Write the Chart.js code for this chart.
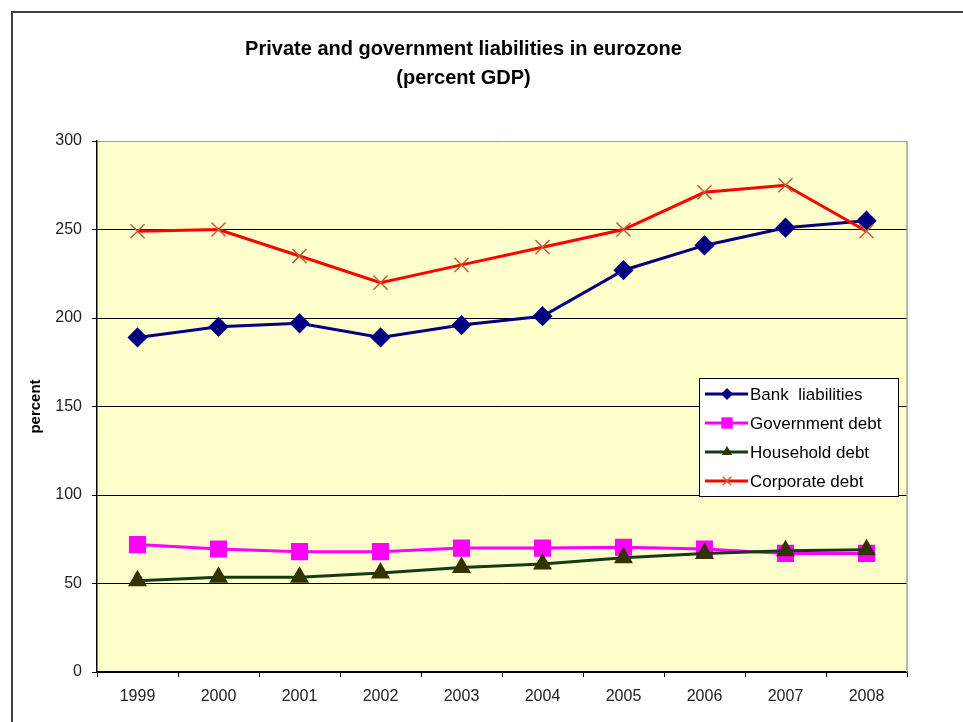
<!DOCTYPE html>
<html>
<head>
<meta charset="utf-8">
<title>Private and government liabilities in eurozone</title>
<script src="https://cdn.jsdelivr.net/npm/chart.js@4.4.1/dist/chart.umd.min.js"></script>
<style>
    html, body { margin: 0; padding: 0; background: #ffffff; }
    #wrap { width: 963px; height: 722px; }
</style>
</head>
<body>
<div id="wrap"><canvas id="liabChart" width="963" height="722"></canvas></div>
<script>
const years = ['1999', '2000', '2001', '2002', '2003', '2004', '2005', '2006', '2007', '2008'];

// percent of GDP
const bankLiabilities = [189, 195, 197, 189, 196, 201, 227, 241, 251, 255];
const governmentDebt = [72, 69.5, 68, 68, 70, 70, 70.5, 69.5, 67, 67];
const householdDebt = [51.5, 53.5, 53.5, 56, 59, 61, 64.5, 67, 68.5, 69];
const corporateDebt = [249, 250, 235, 220, 230, 240, 250, 271, 275, 249];

const yTicks = [0, 50, 100, 150, 200, 250, 300];

const FONT = "'Liberation Sans', Arial, sans-serif";

// small marker painter for the legend (same shapes as the chart points)
function drawMarker(ctx, style, x, y, r, fill, stroke, lw) {
    ctx.save();
    ctx.fillStyle = fill;
    ctx.strokeStyle = stroke;
    ctx.lineWidth = lw;
    ctx.beginPath();
    if (style === 'rectRot') {
        ctx.moveTo(x - r, y);
        ctx.lineTo(x, y - r);
        ctx.lineTo(x + r, y);
        ctx.lineTo(x, y + r);
        ctx.closePath();
        ctx.fill();
    } else if (style === 'rect') {
        const s = r * Math.SQRT1_2;
        ctx.rect(x - s, y - s, 2 * s, 2 * s);
        ctx.fill();
    } else if (style === 'triangle') {
        ctx.moveTo(x, y - r);
        ctx.lineTo(x + r * 0.866, y + r * 0.5);
        ctx.lineTo(x - r * 0.866, y + r * 0.5);
        ctx.closePath();
        ctx.fill();
    } else if (style === 'crossRot') {
        const s = r * Math.SQRT1_2;
        ctx.moveTo(x - s, y - s);
        ctx.lineTo(x + s, y + s);
        ctx.moveTo(x + s, y - s);
        ctx.lineTo(x - s, y + s);
        ctx.stroke();
    }
    ctx.restore();
}

const framePlugin = {
    id: 'frame',
    beforeDraw(chart) {
        const ctx = chart.ctx;
        const a = chart.chartArea;
        ctx.save();
        ctx.fillStyle = '#ffffff';
        ctx.fillRect(0, 0, chart.width, chart.height);
        // outer chart border, runs off the right and bottom edge
        ctx.strokeStyle = '#404040';
        ctx.lineWidth = 2;
        ctx.strokeRect(12, 12, chart.width + 20, chart.height + 20);
        // plot area
        ctx.fillStyle = '#ffffcc';
        ctx.fillRect(a.left, a.top, a.right - a.left, a.bottom - a.top);
        ctx.restore();
    },
    beforeDatasetsDraw(chart) {
        const ctx = chart.ctx;
        const a = chart.chartArea;
        ctx.save();
        ctx.strokeStyle = '#a0a0a0';
        ctx.lineWidth = 1.5;
        ctx.beginPath();
        ctx.moveTo(a.right, a.top);
        ctx.lineTo(a.right, a.bottom);
        ctx.stroke();
        ctx.restore();
    }
};

const boxLegend = {
    id: 'boxLegend',
    afterDraw(chart) {
        const ctx = chart.ctx;
        const x = 699, y = 378, w = 199, h = 118, rowH = 29;
        ctx.save();
        ctx.fillStyle = '#ffffff';
        ctx.fillRect(x, y, w, h);
        ctx.strokeStyle = '#000000';
        ctx.lineWidth = 1;
        ctx.strokeRect(x + 0.5, y + 0.5, w, h);
        chart.data.datasets.forEach((ds, i) => {
            const ry = y + 16 + i * rowH;
            ctx.strokeStyle = ds.borderColor;
            ctx.lineWidth = 3;
            ctx.beginPath();
            ctx.moveTo(x + 6, ry);
            ctx.lineTo(x + 49, ry);
            ctx.stroke();
            const r = ds.pointStyle === 'rect' ? 8 : 6;
            drawMarker(ctx, ds.pointStyle, x + 28, ry, r,
                ds.pointBackgroundColor, ds.pointBorderColor, 1.5);
            ctx.fillStyle = '#000000';
            ctx.font = '17px ' + FONT;
            ctx.textBaseline = 'middle';
            ctx.textAlign = 'left';
            ctx.fillText(ds.label, x + 51, ry + 1);
        });
        ctx.restore();
    }
};

const ctx = document.getElementById('liabChart').getContext('2d');

new Chart(ctx, {
    type: 'line',
    data: {
        labels: years,
        datasets: [{
            label: 'Bank  liabilities',
            data: bankLiabilities,
            borderColor: '#000080',
            pointBackgroundColor: '#000080',
            pointBorderColor: '#000080',
            pointStyle: 'rectRot',
            pointRadius: 8,
            borderWidth: 3,
            order: 4
        }, {
            label: 'Government debt',
            data: governmentDebt,
            borderColor: '#ff00ff',
            pointBackgroundColor: '#ff00ff',
            pointBorderColor: '#ff00ff',
            pointStyle: 'rect',
            pointRadius: 10,
            borderWidth: 3,
            order: 3
        }, {
            label: 'Household debt',
            data: householdDebt,
            borderColor: '#143c14',
            pointBackgroundColor: '#333300',
            pointBorderColor: '#333300',
            pointStyle: 'triangle',
            pointRadius: 8,
            borderWidth: 3,
            order: 2
        }, {
            label: 'Corporate debt',
            data: corporateDebt,
            borderColor: '#ff0000',
            pointBackgroundColor: '#ff0000',
            pointBorderColor: '#c0603a',
            pointStyle: 'crossRot',
            pointRadius: 10,
            pointBorderWidth: 1.5,
            borderWidth: 3,
            order: 1
        }]
    },
    options: {
        responsive: false,
        animation: false,
        devicePixelRatio: 1,
        layout: {
            padding: { left: 20, right: 56, top: 0, bottom: 0 }
        },
        elements: {
            line: { tension: 0 }
        },
        plugins: {
            legend: { display: false },
            tooltip: { enabled: false },
            title: {
                display: true,
                text: ['Private and government liabilities in eurozone', '(percent GDP)'],
                color: '#000000',
                font: { family: FONT, size: 20, weight: 'bold', lineHeight: 1.45 },
                padding: { top: 35, bottom: 48 }
            }
        },
        scales: {
            x: {
                offset: true,
                afterFit(scale) { scale.height = 50; },
                grid: {
                    offset: true,
                    drawOnChartArea: false,
                    tickLength: 5,
                    tickColor: '#000000'
                },
                border: { color: '#000000', width: 1.5 },
                ticks: {
                    color: '#222222',
                    padding: 10,
                    maxRotation: 0,
                    font: { family: FONT, size: 16 }
                }
            },
            y: {
                min: 0,
                max: 300,
                afterFit(scale) { scale.width = 77; },
                afterBuildTicks(scale) {
                    scale.ticks = yTicks.map(v => ({ value: v }));
                },
                grid: {
                    color: (c) => (c.tick && c.tick.value === 300 ? '#a0a0a0' : '#000000'),
                    lineWidth: 1,
                    tickLength: 5,
                    tickColor: '#000000'
                },
                border: { color: '#000000', width: 1.5 },
                ticks: {
                    color: '#222222',
                    padding: 10,
                    font: { family: FONT, size: 16 }
                },
                title: {
                    display: true,
                    text: 'percent',
                    color: '#000000',
                    padding: { top: 7, bottom: 0 },
                    font: { family: FONT, size: 15, weight: 'bold' }
                }
            }
        }
    },
    plugins: [framePlugin, boxLegend]
});
</script>
</body>
</html>
